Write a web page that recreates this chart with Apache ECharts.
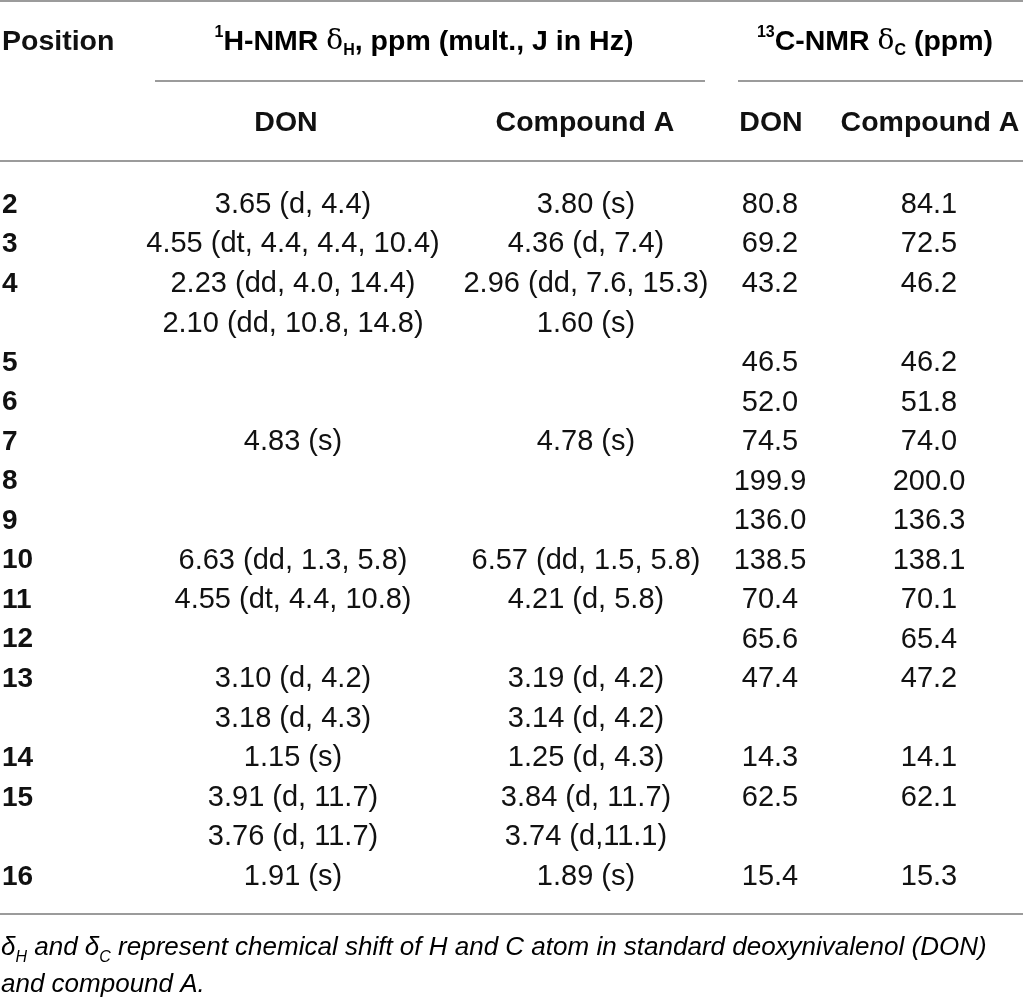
<!DOCTYPE html>
<html>
<head>
<meta charset="utf-8">
<script src="https://cdn.jsdelivr.net/npm/echarts@6/dist/echarts.min.js"></script>
<style>
html,body{margin:0;padding:0;background:#fff;}
#c{width:1023px;height:999px;}
</style>
</head>
<body>
<div id="c"></div>
<script>
// ---- data ----
var positions = ['2','3','4','','5','6','7','8','9','10','11','12','13','','14','15','','16'];
var donH = ['3.65 (d, 4.4)','4.55 (dt, 4.4, 4.4, 10.4)','2.23 (dd, 4.0, 14.4)','2.10 (dd, 10.8, 14.8)','','','4.83 (s)','','','6.63 (dd, 1.3, 5.8)','4.55 (dt, 4.4, 10.8)','','3.10 (d, 4.2)','3.18 (d, 4.3)','1.15 (s)','3.91 (d, 11.7)','3.76 (d, 11.7)','1.91 (s)'];
var cmpH = ['3.80 (s)','4.36 (d, 7.4)','2.96 (dd, 7.6, 15.3)','1.60 (s)','','','4.78 (s)','','','6.57 (dd, 1.5, 5.8)','4.21 (d, 5.8)','','3.19 (d, 4.2)','3.14 (d, 4.2)','1.25 (d, 4.3)','3.84 (d, 11.7)','3.74 (d,11.1)','1.89 (s)'];
var donC = [80.8,69.2,43.2,null,46.5,52.0,74.5,199.9,136.0,138.5,70.4,65.6,47.4,null,14.3,62.5,null,15.4];
var cmpC = [84.1,72.5,46.2,null,46.2,51.8,74.0,200.0,136.3,138.1,70.1,65.4,47.2,null,14.1,62.1,null,15.3];
var subHeaders = ['DON','Compound A','DON','Compound A'];
var footnoteText = 'represent chemical shift of H and C atom in standard deoxynivalenol (DON)';
var footnoteLine2 = 'and compound A.';

// ---- layout (not data) ----
var COLX = {pos: 2, donH: 293, cmpH: 586, donC: 770, cmpC: 929};
var FONT = "'Liberation Sans', Arial, Helvetica, sans-serif";
var TXT = '#111';
var LINE = '#9b9b9b';

function colSeries(name, x, vals, fmt, bold, align) {
  var data = [];
  vals.forEach(function (v, i) {
    if (v === null || v === '') return;
    data.push({value: [x, i], label: {formatter: fmt(v)}});
  });
  return {
    type: 'scatter', name: name, data: data,
    symbol: 'circle', symbolSize: 1, itemStyle: {color: 'rgba(0,0,0,0)', opacity: 1},
    silent: true, animation: false,
    label: {
      show: true, position: 'inside', align: align || 'center', verticalAlign: 'middle',
      fontFamily: FONT, fontSize: bold ? 28 : 29, fontWeight: bold ? 'bold' : 'normal', color: TXT,
      opacity: 1, textBorderWidth: 0
    },
    emphasis: {disabled: true}
  };
}
function s(v) { return String(v); }
function f1(v) { return v.toFixed(1); }

var rowIdx = positions.map(function (_, i) { return String(i); });

var chart = echarts.init(document.getElementById('c'), null, {renderer: 'canvas'});
var boldHead = {fontFamily: FONT, fontSize: 28.5, fontWeight: 'bold', fill: TXT};
function hline(x1, x2, y) {
  return {type: 'line', silent: true, shape: {x1: x1, y1: y, x2: x2, y2: y}, style: {stroke: LINE, lineWidth: 2}};
}
function htext(t, x, y, align) {
  return {type: 'text', silent: true, x: x, y: y,
    style: Object.assign({text: t, align: align || 'center', verticalAlign: 'middle'}, boldHead)};
}
var richHead = {
  b: {fontFamily: FONT, fontSize: 28.5, fontWeight: 'bold', color: TXT, lineHeight: 34},
  d: {fontFamily: "'DejaVu Serif', 'Liberation Serif', serif", fontSize: 28, fontWeight: 'normal', color: TXT, lineHeight: 34},
  sup: {fontFamily: FONT, fontSize: 16, fontWeight: 'bold', color: TXT, verticalAlign: 'top', lineHeight: 18},
  sub: {fontFamily: FONT, fontSize: 16, fontWeight: 'bold', color: TXT, verticalAlign: 'bottom', lineHeight: 21}
};
var richFoot = {
  i: {fontFamily: FONT, fontSize: 26, fontStyle: 'italic', color: TXT, lineHeight: 37},
  s: {fontFamily: FONT, fontSize: 16, fontStyle: 'italic', color: TXT, verticalAlign: 'bottom', lineHeight: 22}
};

chart.setOption({
  animation: false,
  backgroundColor: '#fff',
  grid: {left: 0, right: 0, top: 185.2, bottom: 102.3},
  xAxis: {type: 'value', min: 0, max: 1023, show: false},
  yAxis: {type: 'category', data: rowIdx, inverse: true, show: false, boundaryGap: true},
  graphic: [
    hline(0, 1023, 1),
    hline(155, 705, 81),
    hline(738, 1023, 81),
    hline(0, 1023, 161),
    hline(0, 1023, 914),
    htext('Position', 2, 42, 'left'),
    {type: 'text', silent: true, x: 424, y: 42, style: {
      text: '{sup|1}{b|H-NMR }{d|δ}{sub|H}{b|, ppm (mult., J in Hz)}', rich: richHead,
      align: 'center', verticalAlign: 'middle'}},
    {type: 'text', silent: true, x: 875, y: 42, style: {
      text: '{sup|13}{b|C-NMR }{d|δ}{sub|C}{b| (ppm)}', rich: richHead,
      align: 'center', verticalAlign: 'middle'}},
    htext(subHeaders[0], 286, 123),
    htext(subHeaders[1], 585, 123),
    htext(subHeaders[2], 771, 123),
    htext(subHeaders[3], 930, 123),
    {type: 'text', silent: true, x: 1, y: 966, style: {
      text: '{i|δ}{s|H}{i| and δ}{s|C}{i| ' + footnoteText + '}\n{i|' + footnoteLine2 + '}',
      rich: richFoot, align: 'left', verticalAlign: 'middle'}}
  ],
  series: [
    colSeries('Position', COLX.pos, positions, s, true, 'left'),
    colSeries('DON 1H', COLX.donH, donH, s, false),
    colSeries('Compound A 1H', COLX.cmpH, cmpH, s, false),
    colSeries('DON 13C', COLX.donC, donC, f1, false),
    colSeries('Compound A 13C', COLX.cmpC, cmpC, f1, false)
  ]
});
</script>
</body>
</html>
